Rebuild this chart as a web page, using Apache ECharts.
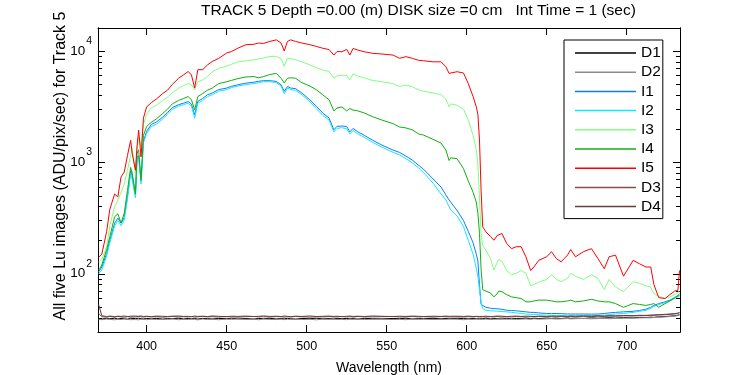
<!DOCTYPE html>
<html>
<head>
<meta charset="utf-8">
<script src="https://cdn.jsdelivr.net/npm/echarts@6/dist/echarts.min.js"></script>
<style>
html, body { margin: 0; padding: 0; background: #fff; }
#chart { width: 750px; height: 375px; }
</style>
</head>
<body>
<div id="chart"></div>
<script>
var wavelength = [
    370, 372, 375, 377, 380, 382, 384, 386, 388, 390,
    391, 393, 394, 395, 396.5, 398, 400, 403, 406, 410,
    413, 416, 420, 423, 426, 428, 430, 432, 435, 438,
    441, 445, 450, 453, 457, 462, 467, 470, 473, 477,
    481, 484, 486, 488, 490, 493, 497, 502, 506, 510,
    514, 517, 519, 522, 525, 527, 529, 532, 536, 541,
    547, 554, 558, 562, 566, 570, 573, 579, 584, 587,
    589, 590, 594, 598, 601, 604, 606, 607, 608, 609,
    610, 612, 615, 617, 619, 620, 622, 625, 628, 631,
    634, 637, 640, 642, 645, 650, 653, 656, 659, 663,
    665, 668, 673, 678, 682, 686, 689, 693, 698, 704,
    708, 712, 715, 717, 720, 724, 727, 730, 732, 733
];

var d1 = [
    39.6, 39.2, 39.8, 39.4, 39.9, 39.3, 39.7, 39.5, 39.1, 39.8,
    39.4, 39.6, 39.2, 39.9, 39.5, 39.3, 39.7, 39.4, 39.8, 39.2,
    39.6, 39.5, 39.9, 39.3, 39.7, 39.4, 39.6, 39.2, 39.8, 39.5,
    39.3, 39.7, 39.5, 39.9, 39.4, 39.6, 39.2, 39.7, 39.5, 39.8,
    39.3, 39.6, 39.4, 39.8, 39.5, 39.2, 39.7, 39.5, 39.9, 39.4,
    39.6, 39.3, 39.8, 39.5, 39.7, 39.4, 39.6, 39.2, 39.8, 39.5,
    39.4, 39.7, 39.5, 39.9, 39.3, 39.6, 39.5, 39.8, 39.4, 39.7,
    39.5, 39.3, 39.8, 39.6, 39.4, 39.7, 39.5, 39.9, 39.4, 39.6,
    39.5, 39.8, 39.3, 39.7, 39.5, 39.6, 39.4, 39.8, 39.5, 39.7,
    39.6, 39.9, 39.5, 39.8, 39.6, 40.0, 39.7, 39.9, 39.6, 40.1,
    39.8, 40.0, 39.7, 40.2, 39.9, 40.1, 40.3, 40.0, 40.4, 40.2,
    40.6, 40.4, 40.8, 40.6, 41.0, 41.3, 41.6, 42.0, 42.4, 43.0
];

var d2 = [
    39.0, 38.7, 39.2, 38.9, 38.6, 39.1, 38.8, 39.3, 38.9, 38.7,
    39.2, 38.8, 39.0, 38.6, 39.1, 38.9, 38.7, 39.2, 38.8, 39.0,
    38.9, 39.3, 38.7, 39.0, 38.8, 39.1, 38.9, 38.6, 39.2, 38.8,
    39.0, 38.7, 39.1, 38.9, 39.3, 38.8, 39.0, 38.7, 39.2, 38.9,
    38.8, 39.1, 38.7, 39.0, 38.9, 39.2, 38.8, 39.0, 38.6, 39.1,
    38.9, 39.2, 38.8, 39.0, 38.7, 39.1, 38.9, 39.3, 38.8, 39.0,
    39.1, 38.8, 39.0, 38.7, 39.2, 38.9, 39.1, 38.8, 39.0, 38.9,
    39.2, 38.8, 39.0, 38.7, 39.1, 38.9, 39.2, 38.8, 39.0, 39.1,
    38.9, 39.2, 38.8, 39.0, 39.1, 38.9, 39.3, 39.0, 39.2, 38.9,
    39.1, 39.3, 39.0, 39.4, 39.1, 39.3, 39.5, 39.2, 39.4, 39.6,
    39.3, 39.5, 39.7, 39.4, 39.6, 39.8, 39.5, 39.7, 39.9, 40.0,
    40.1, 40.3, 40.2, 40.5, 40.7, 41.0, 41.3, 41.7, 42.1, 42.6
];

var i1 = [
    104, 115, 152, 200, 285, 316, 285, 320, 490, 840,
    750, 510, 1100, 1150, 690, 1550, 1900, 2200, 2300, 2550,
    2800, 3100, 3300, 3400, 3520, 3340, 2680, 3530, 3750, 4050,
    4200, 4500, 4650, 4820, 4980, 5150, 5250, 5350, 5420, 5420,
    5340, 4980, 4340, 4800, 4650, 4600, 4200, 3650, 3200, 2780,
    2500, 1960, 2110, 2120, 2100, 1880, 2020, 1880, 1750, 1590,
    1430, 1290, 1230, 1140, 1050, 940, 870, 710, 600, 510,
    460, 440, 370, 300, 240, 190, 150, 130, 80, 53,
    51, 50, 49, 48.6, 48.5, 48.6, 48, 47, 46.8, 46.5,
    46, 45.5, 45, 45, 44.5, 44, 44, 44, 43.8, 43.5,
    43.5, 43.5, 43.5, 43.4, 43.5, 44, 44.5, 45, 45.5, 46,
    46.8, 48, 50, 52, 54, 56, 58, 61, 63, 64
];

var i2 = [
    100, 108, 145, 190, 270, 300, 270, 305, 470, 800,
    700, 480, 1050, 1100, 640, 1500, 1820, 2100, 2200, 2450,
    2700, 3000, 3200, 3300, 3400, 3200, 2500, 3400, 3600, 3900,
    4050, 4350, 4500, 4700, 4850, 5000, 5100, 5200, 5300, 5300,
    5200, 4850, 4150, 4650, 4500, 4450, 4050, 3500, 3050, 2650,
    2400, 1880, 2020, 2050, 2000, 1800, 1930, 1800, 1680, 1520,
    1370, 1230, 1170, 1080, 990, 890, 810, 650, 520, 460,
    400, 375, 330, 265, 200, 150, 112, 95, 72, 55,
    48.6, 47, 46.5, 46.3, 46.2, 46, 45.8, 45.5, 45, 44.5,
    44, 43.5, 43.2, 43, 42.8, 42.5, 42.4, 42.3, 42.2, 42,
    42, 42, 42, 42, 42.2, 42.5, 43, 43.5, 44, 45,
    46, 47, 49, 51, 53, 55, 57, 60, 62, 63
];

var i3 = [
    128, 135, 175, 270, 400, 460, 540, 640, 850, 1150,
    1330, 800, 1300, 1700, 1400, 2200, 2700, 3100, 3250, 3600,
    3850, 4200, 4650, 4900, 5100, 5000, 4500, 5300, 5500, 5900,
    6500, 7000, 7300, 7600, 8000, 8150, 8350, 8500, 8650, 8950,
    8950, 8500, 7300, 8650, 8500, 8350, 8000, 7500, 7100, 6750,
    6550, 5700, 6000, 6050, 6050, 5500, 6250, 5950, 5750, 5450,
    5300, 5100, 4800, 4950, 4780, 4480, 4350, 4200, 4050, 3700,
    3160, 3350, 3260, 3000, 2400, 1750, 1300, 950, 480, 230,
    180, 163, 135, 108, 126, 134, 130, 107, 98, 101,
    107, 101, 78, 80, 84, 89, 98, 89, 85, 91,
    101, 95, 89, 98, 91, 72, 89, 76, 69, 85,
    82, 78, 76, 66, 63, 60, 62, 65, 68, 70
];

var i4 = [
    107, 120, 165, 215, 325, 345, 285, 350, 560, 900,
    800, 520, 1200, 1300, 690, 1750, 2100, 2300, 2450, 2750,
    3000, 3350, 3600, 3750, 3900, 3650, 2970, 3900, 4150, 4450,
    4650, 5100, 5300, 5450, 5650, 5850, 5900, 5750, 5900, 6150,
    6300, 5700, 5160, 5700, 5750, 5700, 5200, 4850, 4500, 4050,
    3650, 2900, 3080, 3150, 2900, 3050, 2950, 2900, 2780, 2580,
    2400, 2230, 2080, 2040, 1960, 1800, 1760, 1610, 1490, 1290,
    1040, 1100, 1080, 880, 680, 540, 440, 350, 230, 110,
    72, 70, 67, 62, 66, 70, 69, 65, 62, 61,
    60, 56, 56, 57, 58, 58, 57, 56, 56, 57,
    58, 56, 57, 59, 57, 56, 56, 54, 50, 54,
    53, 52, 53, 54, 50, 54, 57, 61, 64, 66
];

var i5 = [
    140, 150, 240, 380, 520, 490, 740, 820, 1150, 1580,
    1200, 850, 1400, 1950, 1120, 2500, 3150, 3450, 3700, 4150,
    4450, 5000, 5700, 6100, 6550, 6100, 4650, 6800, 6800, 7500,
    8050, 8600, 9600, 9900, 10600, 11400, 11500, 11800, 11700, 12200,
    12600, 11800, 10000, 12200, 12600, 12200, 11800, 11400, 11000, 10600,
    10300, 9200, 9900, 9850, 10350, 9200, 10550, 10200, 9850, 9550,
    9400, 9200, 8600, 8900, 8600, 8250, 8180, 8000, 8000, 7230,
    6300, 6450, 6520, 6350, 5100, 3900, 3150, 2700, 1590, 563,
    264, 238, 215, 200, 220, 222, 230, 187, 168, 175,
    175, 142, 107, 115, 132, 142, 158, 137, 128, 147,
    165, 142, 158, 168, 137, 111, 142, 147, 95, 132,
    123, 115, 115, 80, 61, 60, 65, 70, 71, 107
];

var d3 = [
    44.0, 41.2, 40.8, 41.3, 40.9, 41.4, 41.0, 40.7, 41.2, 40.9,
    41.3, 41.0, 40.8, 41.4, 41.1, 40.9, 41.3, 41.0, 41.2, 40.8,
    41.1, 41.4, 40.9, 41.2, 41.0, 41.3, 40.8, 41.1, 41.4, 41.0,
    41.2, 40.9, 41.3, 41.1, 40.8, 41.2, 41.4, 41.0, 41.2, 40.9,
    41.3, 41.1, 40.9, 41.2, 41.0, 41.4, 41.1, 40.8, 41.2, 41.0,
    41.3, 40.9, 41.1, 41.4, 41.0, 41.2, 40.9, 41.3, 41.1, 41.0,
    41.2, 41.4, 40.9, 41.1, 41.3, 41.0, 41.2, 40.9, 41.3, 41.1,
    41.0, 41.3, 41.1, 40.9, 41.2, 41.0, 41.3, 41.1, 40.9, 41.2,
    41.1, 40.9, 41.2, 41.0, 41.3, 41.1, 40.8, 41.2, 41.0, 41.3,
    41.1, 40.9, 41.2, 41.0, 41.3, 41.1, 41.2, 41.0, 41.3, 41.1,
    41.4, 41.2, 41.5, 41.3, 41.6, 41.4, 41.7, 41.6, 41.9, 41.8,
    42.1, 42.0, 42.3, 42.4, 42.6, 42.9, 43.2, 43.6, 44.0, 44.8
];

var d4 = [
    53.0, 42.0, 41.3, 41.7, 41.2, 41.6, 41.4, 41.8, 41.3, 41.6,
    41.2, 41.7, 41.4, 41.5, 41.8, 41.3, 41.6, 41.2, 41.7, 41.5,
    41.3, 41.6, 41.8, 41.4, 41.5, 41.2, 41.7, 41.4, 41.6, 41.3,
    41.8, 41.5, 41.2, 41.6, 41.4, 41.7, 41.3, 41.5, 41.8, 41.4,
    41.6, 41.3, 41.7, 41.5, 41.2, 41.6, 41.4, 41.8, 41.3, 41.5,
    41.7, 41.4, 41.6, 41.2, 41.5, 41.7, 41.4, 41.6, 41.3, 41.8,
    41.5, 41.3, 41.6, 41.4, 41.7, 41.5, 41.3, 41.6, 41.4, 41.7,
    41.5, 41.2, 41.6, 41.4, 41.7, 41.3, 41.5, 41.6, 41.4, 41.7,
    41.4, 41.6, 41.3, 41.5, 41.7, 41.4, 41.6, 41.3, 41.5, 41.7,
    41.4, 41.6, 41.5, 41.3, 41.6, 41.4, 41.7, 41.5, 41.6, 41.4,
    41.7, 41.5, 41.8, 41.6, 41.9, 41.7, 42.0, 41.9, 42.2, 42.1,
    42.4, 42.3, 42.6, 42.7, 42.9, 43.2, 43.5, 43.9, 44.3, 45.0
];

var xTicks = [400, 450, 500, 550, 600, 650, 700];
var yMajorTicks = [100, 1000, 10000];
var yMinorTicks = [40, 50, 60, 70, 80, 90, 200, 300, 400, 500, 600, 700, 800, 900,
    2000, 3000, 4000, 5000, 6000, 7000, 8000, 9000];

var xMin = 369.6, xMax = 733.3;
var yMin = 30, yMax = 16100;
var fontName = 'Liberation Sans';

function toPairs(values) {
    var out = [];
    for (var i = 0; i < wavelength.length; i++) {
        out.push([wavelength[i], values[i]]);
    }
    return out;
}

var lines = [
    {name: 'D1', color: '#000000', values: d1},
    {name: 'D2', color: '#8c8c8c', values: d2},
    {name: 'I1', color: '#0a7ff5', values: i1},
    {name: 'I2', color: '#14e6ff', values: i2},
    {name: 'I3', color: '#80ff80', values: i3},
    {name: 'I4', color: '#10b010', values: i4},
    {name: 'I5', color: '#ff0000', values: i5},
    {name: 'D3', color: '#7f4f4f', values: d3},
    {name: 'D4', color: '#6a3c3c', values: d4}
];

var series = [];
for (var k = 0; k < lines.length; k++) {
    series.push({
        name: lines[k].name,
        type: 'line',
        color: lines[k].color,
        data: toPairs(lines[k].values),
        showSymbol: false,
        symbol: 'none',
        lineStyle: {width: 1},
        xAxisIndex: 0,
        yAxisIndex: 0
    });
}

function yAxisDef(side, ticks, len, withLabels) {
    return {
        type: 'log',
        logBase: 10,
        min: yMin,
        max: yMax,
        position: side,
        axisLine: {show: true, lineStyle: {color: '#000', width: 1}},
        axisTick: {show: true, inside: true, length: len, customValues: ticks,
            lineStyle: {color: '#000', width: 1}},
        axisLabel: {
            show: withLabels,
            customValues: yMajorTicks,
            margin: 6,
            color: '#000',
            formatter: function (v) {
                return '{b|10}{e|' + Math.round(Math.log10(v)) + '}';
            },
            rich: {
                b: {fontSize: 13.5, fontFamily: fontName, color: '#000'},
                e: {fontSize: 10.5, fontFamily: fontName, color: '#000', padding: [0, 0, 20, 1]}
            }
        },
        splitLine: {show: false},
        minorTick: {show: false}
    };
}

function xAxisDef(side, withLabels) {
    var ax = {
        type: 'value',
        min: xMin,
        max: xMax,
        position: side,
        axisLine: {show: true, onZero: false, lineStyle: {color: '#000', width: 1}},
        axisTick: {show: true, inside: true, length: 7, customValues: xTicks,
            lineStyle: {color: '#000', width: 1}},
        axisLabel: {show: withLabels, customValues: xTicks, margin: 8, color: '#000',
            fontSize: 12.5, fontFamily: fontName},
        splitLine: {show: false}
    };
    if (withLabels) {
        ax.name = 'Wavelength (nm)';
        ax.nameLocation = 'middle';
        ax.nameGap = 29;
        ax.nameTextStyle = {fontSize: 14, fontFamily: fontName, color: '#000'};
    }
    return ax;
}

var chart = echarts.init(document.getElementById('chart'));

var option = {
    animation: false,
    backgroundColor: '#fff',
    textStyle: {fontFamily: fontName},
    title: {
        text: 'TRACK 5 Depth =0.00 (m) DISK size =0 cm   Int Time = 1 (sec)',
        left: 201,
        top: 3,
        padding: 0,
        textStyle: {fontSize: 15.5, fontWeight: 'normal', color: '#000', fontFamily: fontName}
    },
    legend: {
        orient: 'vertical',
        left: 564,
        top: 40,
        data: ['D1', 'D2', 'I1', 'I2', 'I3', 'I4', 'I5', 'D3', 'D4'],
        icon: 'rect',
        itemWidth: 61,
        itemHeight: 1.5,
        itemGap: 3.2,
        padding: [5, 2, 4, 11],
        borderColor: '#000',
        borderWidth: 1,
        borderRadius: 0,
        backgroundColor: '#fff',
        textStyle: {fontSize: 15.5, color: '#000', fontFamily: fontName}
    },
    grid: {left: 98, right: 70, top: 28, bottom: 43, containLabel: false, outerBoundsMode: 'none'},
    xAxis: [xAxisDef('bottom', true), xAxisDef('top', false)],
    yAxis: [
        yAxisDef('left', yMajorTicks, 7, true),
        yAxisDef('left', yMinorTicks, 4, false),
        yAxisDef('right', yMajorTicks, 7, false),
        yAxisDef('right', yMinorTicks, 4, false)
    ],
    graphic: [{
        type: 'text',
        x: 61,
        y: 166,
        rotation: Math.PI / 2,
        style: {
            text: 'All five Lu images (ADU/pix/sec) for Track 5',
            fontSize: 16,
            fontFamily: fontName,
            fill: '#000',
            align: 'center',
            verticalAlign: 'middle'
        }
    }],
    series: series
};

chart.setOption(option);
</script>
</body>
</html>
